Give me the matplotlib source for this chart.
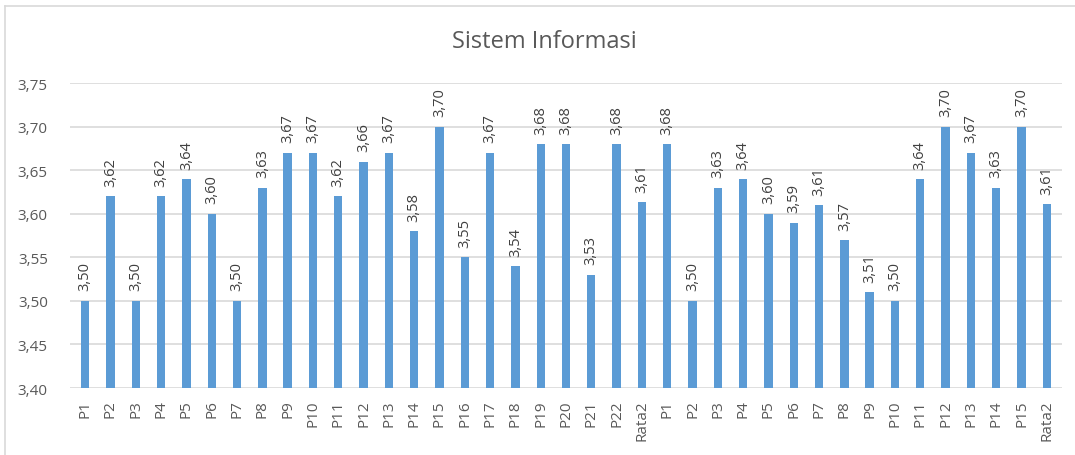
import matplotlib
matplotlib.use('Agg')
import matplotlib.pyplot as plt
from matplotlib.lines import Line2D

plt.rcParams['font.family'] = ['Open Sans', 'DejaVu Sans']

labels = ['P1', 'P2', 'P3', 'P4', 'P5', 'P6', 'P7', 'P8', 'P9', 'P10', 'P11',
          'P12', 'P13', 'P14', 'P15', 'P16', 'P17', 'P18', 'P19', 'P20', 'P21',
          'P22', 'Rata2',
          'P1', 'P2', 'P3', 'P4', 'P5', 'P6', 'P7', 'P8', 'P9', 'P10', 'P11',
          'P12', 'P13', 'P14', 'P15', 'Rata2']
values = [3.50, 3.62, 3.50, 3.62, 3.64, 3.60, 3.50, 3.63, 3.67, 3.67, 3.62,
          3.66, 3.67, 3.58, 3.70, 3.55, 3.67, 3.54, 3.68, 3.68, 3.53,
          3.68, 3.6135,
          3.68, 3.50, 3.63, 3.64, 3.60, 3.59, 3.61, 3.57, 3.51, 3.50, 3.64,
          3.70, 3.67, 3.63, 3.70, 3.611]
yticks = [3.40, 3.45, 3.50, 3.55, 3.60, 3.65, 3.70, 3.75]

blue = '#5B9BD5'
grey = '#595959'

fig = plt.figure(figsize=(10.75, 4.56), dpi=100)
ax = fig.add_axes([70/1075, 1-389/456, (1062-70)/1075, (389-84.3)/456])

x = list(range(len(values)))
ax.bar(x, [v - 3.40 for v in values], bottom=3.40, width=0.33, color=blue, zorder=3)
for i, v in enumerate(values):
    ax.text(i, v + 0.012, ('%.2f' % v).replace('.', ','), rotation=90,
            ha='center', va='bottom', fontsize=10.5, color='#404040')

ax.set_ylim(3.40, 3.75)
ax.set_xlim(-0.6, len(values) - 0.4)
ax.set_yticks(yticks)
ax.set_yticklabels([('%.2f' % t).replace('.', ',') for t in yticks])
ax.set_xticks(x)
ax.set_xticklabels(labels, rotation=90)
ax.tick_params(axis='both', length=0, labelsize=11, colors=grey)
ax.tick_params(axis='y', pad=16)
ax.tick_params(axis='x', pad=8)
ax.grid(axis='y', color='#D9D9D9', linewidth=1.2, zorder=0)
for s in ax.spines.values():
    s.set_visible(False)

fig.text(544/1075, 1-42/456, 'Sistem Informasi', ha='center', va='center',
         fontsize=17, color=grey)

# chart border
fig.add_artist(Line2D([5.5/1075, 5.5/1075], [0, 1-6.5/456], color='#D9D9D9', linewidth=1.2))
fig.add_artist(Line2D([5.5/1075, 1], [1-6.5/456, 1-6.5/456], color='#D9D9D9', linewidth=1.2))

fig.savefig('out.png', dpi=100)
